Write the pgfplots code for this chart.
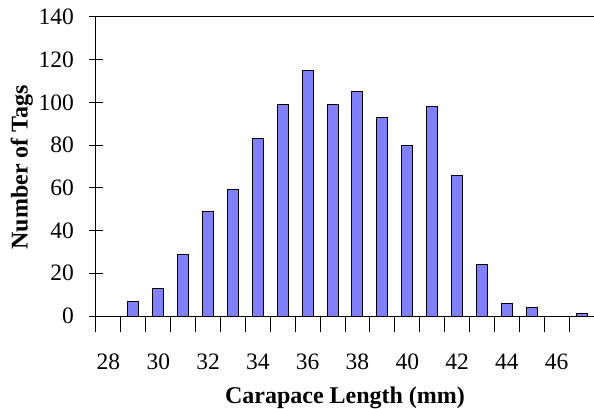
\documentclass[border=0pt]{standalone}
\usepackage{pgfplots}
\pgfplotsset{compat=1.18}
\usepackage{fontspec}
\setmainfont{Liberation Serif}
\definecolor{barblue}{RGB}{128,128,255}

\begin{document}
\begin{tikzpicture}
\begin{axis}[
    scale only axis,
    width=498pt, height=299pt,
    xmin=27.5, xmax=47.5,
    ymin=0, ymax=140,
    ytick={0,20,...,140},
    xtick={28,30,...,46},
    minor xtick={27.5,28.5,...,47.5},
    xtick pos=bottom, ytick pos=left,
    major x tick style={draw=none},
    tick align=center,
    major tick length=14pt,
    minor tick length=16pt,
    tick style={black, line width=1pt},
    axis line style={line width=1pt},
    /pgf/number format/assume math mode=true,
    tick label style={font=\fontsize{23.5}{24}\selectfont},
    yticklabel style={inner sep=0pt, xshift=-15pt},
    xticklabel style={inner sep=0pt, yshift=-24pt},
    label style={font=\fontsize{24}{25}\selectfont\bfseries},
    xlabel={Carapace Length (mm)},
    ylabel={Number of Tags},
    xlabel style={at={(axis description cs:0.5,-0.291)}, anchor=base},
    ylabel style={at={(axis description cs:-0.1375,0.497)}, anchor=base},
    ybar, bar width=11pt,
]
\addplot[draw=black, line width=1pt, fill=barblue] coordinates {
    (29,7) (30,13) (31,29) (32,49) (33,59) (34,83) (35,99) (36,115)
    (37,99) (38,105) (39,93) (40,80) (41,98) (42,66) (43,24) (44,6)
    (45,4) (47,1)
};
\end{axis}
\pgfresetboundingbox
\path[use as bounding box] (-96pt,-93pt) rectangle (498pt,316pt);
\end{tikzpicture}
\end{document}
